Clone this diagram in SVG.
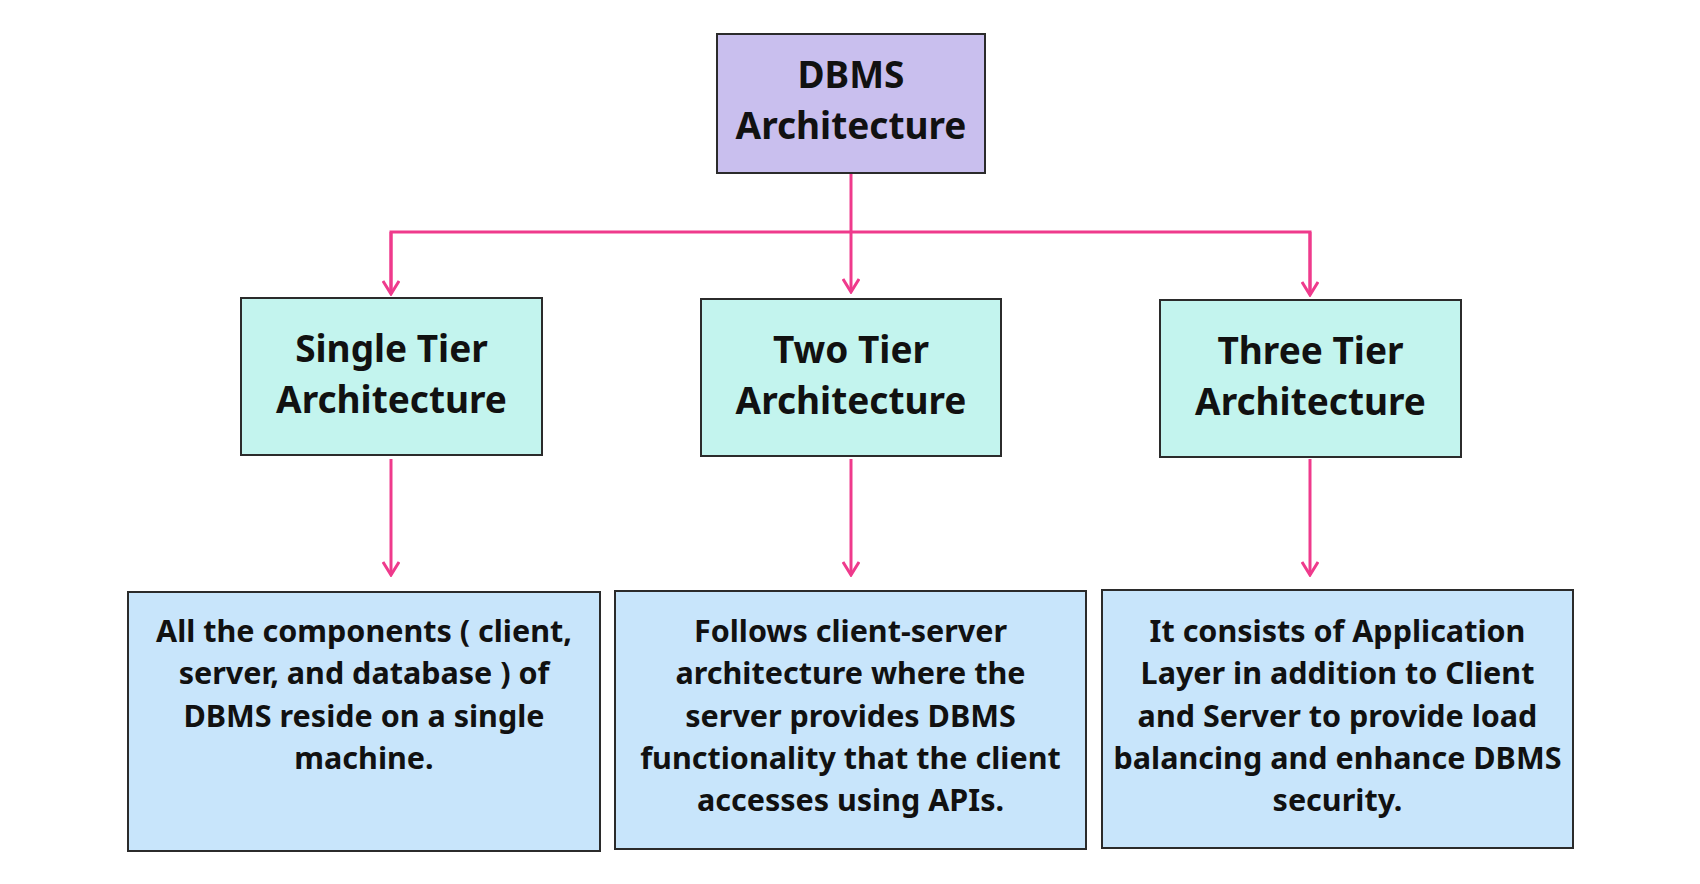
<svg xmlns="http://www.w3.org/2000/svg" width="1700" height="884" viewBox="0 0 1700 884">
<style>
.box{stroke:#2b2b2b;stroke-width:2}
.root{fill:#c9bfee}
.tier{fill:#c3f4ee}
.desc{fill:#c8e5fb}
.t{font-family:"Noto Sans","Liberation Sans",sans-serif;font-weight:bold;fill:#111;text-anchor:middle}
.title{font-size:37px}
.d{font-size:30.5px}
.conn{fill:none;stroke:#ef3a8c;stroke-width:3}
</style>
<defs>
<marker id="arr" viewBox="0 0 16 18" refX="14" refY="9" markerWidth="16" markerHeight="18" markerUnits="userSpaceOnUse" orient="auto">
<path d="M1,1 L14,9 L1,17" fill="none" stroke="#ef3a8c" stroke-width="3"/>
</marker>
</defs>
<rect width="1700" height="884" fill="#ffffff"/>
<g id="connectors">
<path class="conn" d="M851,174 V292" marker-end="url(#arr)"/>
<path class="conn" d="M391,294 V232 H1310 V295"/>
<path class="conn" d="M391,232 V294" marker-end="url(#arr)"/>
<path class="conn" d="M1310,232 V295" marker-end="url(#arr)"/>
<path class="conn" d="M391,459 V575" marker-end="url(#arr)"/>
<path class="conn" d="M851,459 V575" marker-end="url(#arr)"/>
<path class="conn" d="M1310,459 V575" marker-end="url(#arr)"/>
</g>
<g id="dbms">
<rect class="box root" x="717" y="34" width="268" height="139"/>
<text class="t title" x="851" y="88">DBMS</text>
<text class="t title" x="851" y="139">Architecture</text>
</g>
<g id="single">
<rect class="box tier" x="241" y="298" width="301" height="157"/>
<text class="t title" x="391.5" y="362">Single Tier</text>
<text class="t title" x="391.5" y="413">Architecture</text>
</g>
<g id="two">
<rect class="box tier" x="701" y="299" width="300" height="157"/>
<text class="t title" x="851" y="363">Two Tier</text>
<text class="t title" x="851" y="414">Architecture</text>
</g>
<g id="three">
<rect class="box tier" x="1160" y="300" width="301" height="157"/>
<text class="t title" x="1310.5" y="364">Three Tier</text>
<text class="t title" x="1310.5" y="415">Architecture</text>
</g>
<g id="single-desc">
<rect class="box desc" x="128" y="592" width="472" height="259"/>
<text class="t d" x="364" y="642">All the components ( client,</text>
<text class="t d" x="364" y="684">server, and database ) of</text>
<text class="t d" x="364" y="727">DBMS reside on a single</text>
<text class="t d" x="364" y="769">machine.</text>
</g>
<g id="two-desc">
<rect class="box desc" x="615" y="591" width="471" height="258"/>
<text class="t d" x="850.5" y="642">Follows client-server</text>
<text class="t d" x="850.5" y="684">architecture where the</text>
<text class="t d" x="850.5" y="727">server provides DBMS</text>
<text class="t d" x="850.5" y="769">functionality that the client</text>
<text class="t d" x="850.5" y="811">accesses using APIs.</text>
</g>
<g id="three-desc">
<rect class="box desc" x="1102" y="590" width="471" height="258"/>
<text class="t d" x="1337.5" y="642">It consists of Application</text>
<text class="t d" x="1337.5" y="684">Layer in addition to Client</text>
<text class="t d" x="1337.5" y="727">and Server to provide load</text>
<text class="t d" x="1337.5" y="769">balancing and enhance DBMS</text>
<text class="t d" x="1337.5" y="811">security.</text>
</g>
</svg>
